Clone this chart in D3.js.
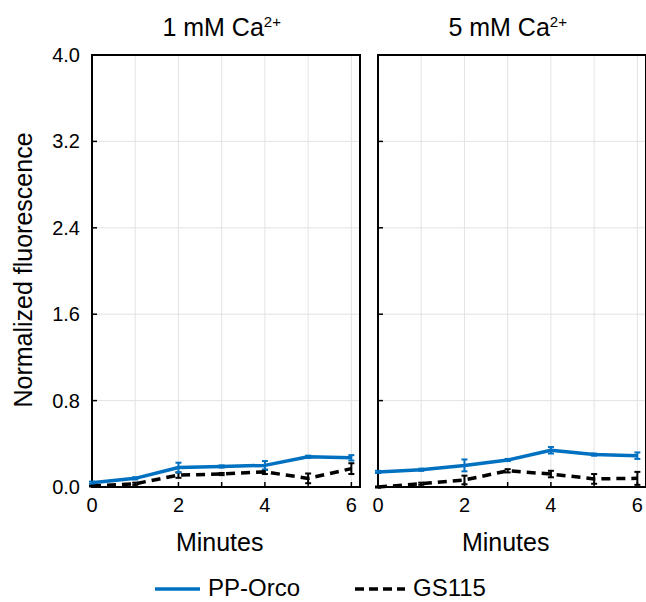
<!DOCTYPE html>
<html><head><meta charset="utf-8">
<script src="https://cdn.jsdelivr.net/npm/d3@7"></script>
<style>body{margin:0;background:#fff}svg{display:block}text{font-family:"Liberation Sans",Arial,sans-serif;fill:#000}</style>
</head><body><svg id="c" width="646" height="602"></svg>
<script>
const minutes = [0,1,2,3,4,5,6];
const panelTitles = ["1 mM Ca", "5 mM Ca"];
const yTicks = [0, 0.8, 1.6, 2.4, 3.2, 4.0];
const xTickLabels = [0, 2, 4, 6];
const seriesNames = ["PP-Orco", "GS115"];
// Panel 1 (1 mM)
const orco1 = [0.04, 0.08, 0.18, 0.19, 0.20, 0.28, 0.27];
const orco1Err = [0.01, 0.01, 0.045, 0.01, 0.04, 0.01, 0.025];
const gs1 = [0.01, 0.03, 0.11, 0.12, 0.14, 0.08, 0.17];
const gs1Err = [0.005, 0.01, 0.025, 0.01, 0.02, 0.045, 0.05];
// Panel 2 (5 mM)
const orco2 = [0.14, 0.16, 0.20, 0.25, 0.34, 0.30, 0.29];
const orco2Err = [0.01, 0.01, 0.055, 0.01, 0.03, 0.01, 0.03];
const gs2 = [0.00, 0.03, 0.065, 0.15, 0.12, 0.075, 0.08];
const gs2Err = [0.005, 0.01, 0.04, 0.015, 0.03, 0.045, 0.06];

const blue = "#0070C0";
const svg = d3.select("#c");
const plotTop = 55, plotBottom = 487;
const y = d3.scaleLinear().domain([0, 4]).range([plotBottom, plotTop]);
const panels = [
  {x0: 92, x1: 360, title: panelTitles[0], orco: orco1, orcoErr: orco1Err, gs: gs1, gsErr: gs1Err},
  {x0: 378, x1: 646, title: panelTitles[1], orco: orco2, orcoErr: orco2Err, gs: gs2, gsErr: gs2Err}
];

panels.forEach((p, pi) => {
  const x = d3.scaleLinear().domain([0, 6.2]).range([p.x0, p.x1]);
  const g = svg.append("g");
  g.selectAll(".vg").data(minutes.filter(d => d > 0)).enter().append("line")
    .attr("x1", d => x(d)).attr("x2", d => x(d)).attr("y1", plotTop).attr("y2", plotBottom)
    .attr("stroke", "#e3e3e3").attr("stroke-width", 1);
  g.selectAll(".hg").data(yTicks.filter(d => d > 0 && d < 4)).enter().append("line")
    .attr("x1", p.x0).attr("x2", p.x1).attr("y1", d => y(d)).attr("y2", d => y(d))
    .attr("stroke", "#e3e3e3").attr("stroke-width", 1);
  g.selectAll(".yt").data(yTicks).enter().append("line")
    .attr("x1", p.x0).attr("x2", p.x0 + 5).attr("y1", d => y(d)).attr("y2", d => y(d))
    .attr("stroke", "#000").attr("stroke-width", 1.5);
  g.selectAll(".xt").data(minutes).enter().append("line")
    .attr("x1", d => x(d)).attr("x2", d => x(d)).attr("y1", plotBottom).attr("y2", plotBottom - 5)
    .attr("stroke", "#000").attr("stroke-width", 1.5);
  g.append("rect").attr("x", p.x0).attr("y", plotTop).attr("width", p.x1 - p.x0).attr("height", plotBottom - plotTop)
    .attr("fill", "none").attr("stroke", "#000").attr("stroke-width", 2);
  g.selectAll(".xl").data(xTickLabels).enter().append("text")
    .attr("x", d => x(d)).attr("y", 512).attr("text-anchor", "middle").attr("font-size", 20).text(d => d);
  g.append("text").attr("x", (x(0) + x(6)) / 2 - 2).attr("y", 551).attr("text-anchor", "middle")
    .attr("font-size", 25).text("Minutes");
  const t = g.append("text").attr("x", (x(0) + x(6)) / 2).attr("y", 36).attr("text-anchor", "middle").attr("font-size", 25);
  t.append("tspan").text(p.title);
  t.append("tspan").attr("font-size", 15).attr("dy", -9).text("2+");

  const line = d3.line().x((d, i) => x(minutes[i])).y(d => y(d));
  const dg = g.append("g");
  [[p.gs, p.gsErr, "#000"], [p.orco, p.orcoErr, blue]].forEach(([vals, errs, col]) => {
    const eb = dg.append("g").attr("stroke", col).attr("stroke-width", 2);
    vals.forEach((v, i) => {
      const cx = x(minutes[i]);
      eb.append("line").attr("x1", cx).attr("x2", cx).attr("y1", y(v - errs[i])).attr("y2", y(v + errs[i]));
      eb.append("line").attr("x1", cx - 3).attr("x2", cx + 3).attr("y1", y(v - errs[i])).attr("y2", y(v - errs[i]));
      eb.append("line").attr("x1", cx - 3).attr("x2", cx + 3).attr("y1", y(v + errs[i])).attr("y2", y(v + errs[i]));
    });
  });
  dg.append("path").datum(p.gs).attr("d", line).attr("fill", "none").attr("stroke", "#000")
    .attr("stroke-width", 3.5).attr("stroke-dasharray", "9,6");
  dg.append("path").datum(p.orco).attr("d", line).attr("fill", "none").attr("stroke", blue)
    .attr("stroke-width", 3.5).attr("stroke-linejoin", "round");
  if (pi === 0) {
    g.selectAll(".yl").data(yTicks).enter().append("text")
      .attr("x", 80).attr("y", d => y(d) + 7).attr("text-anchor", "end").attr("font-size", 20)
      .text(d => d.toFixed(1));
  }
});

svg.append("text").attr("transform", "translate(32,270) rotate(-90)").attr("text-anchor", "middle")
  .attr("font-size", 25).text("Normalized fluorescence");

const lg = svg.append("g");
lg.append("line").attr("x1", 155).attr("x2", 200).attr("y1", 589).attr("y2", 589)
  .attr("stroke", blue).attr("stroke-width", 3.5);
lg.append("text").attr("x", 208).attr("y", 596).attr("font-size", 24).text(seriesNames[0]);
lg.append("line").attr("x1", 355).attr("x2", 405).attr("y1", 589).attr("y2", 589)
  .attr("stroke", "#000").attr("stroke-width", 3.5).attr("stroke-dasharray", "9,5");
lg.append("text").attr("x", 413).attr("y", 596).attr("font-size", 24).text(seriesNames[1]);
</script></body></html>
